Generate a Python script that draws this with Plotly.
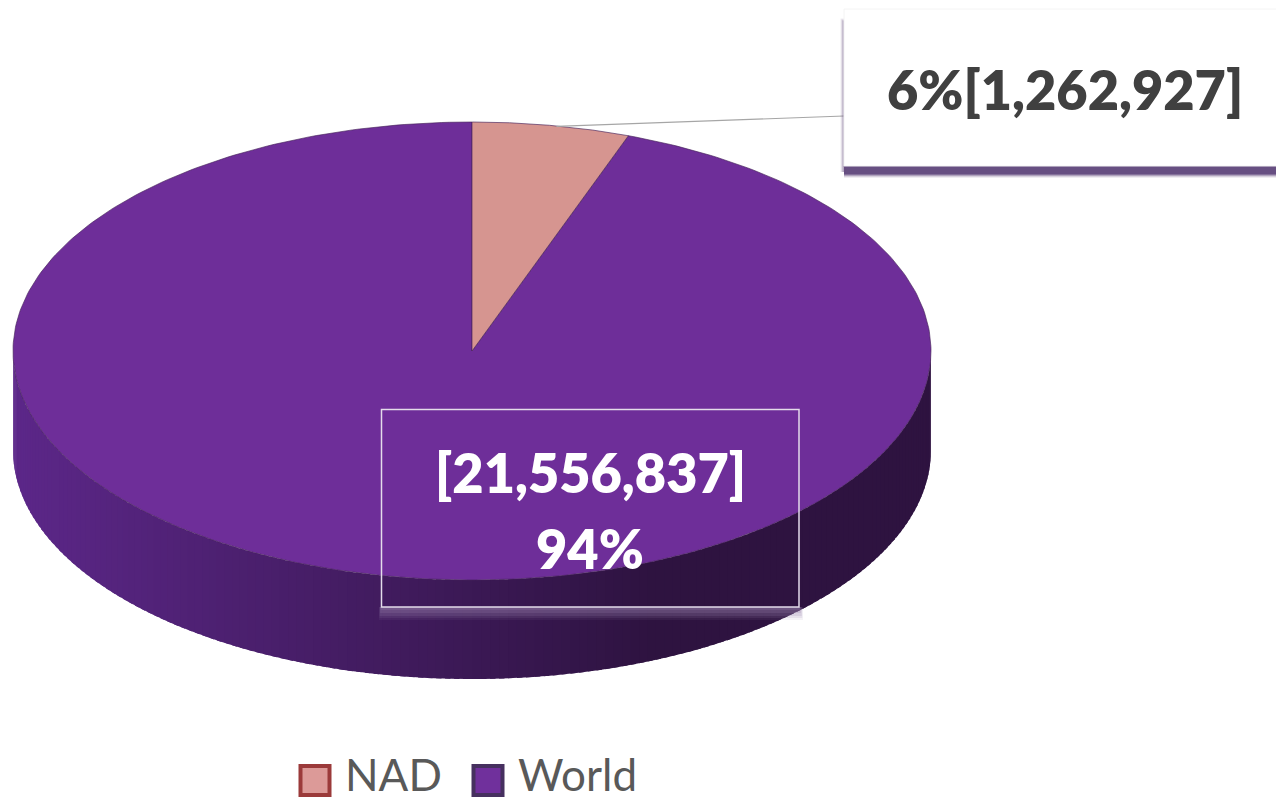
import numpy as np
import plotly.graph_objects as go

categories = ["NAD", "World"]
values = [1262927, 21556837]
percent_labels = ["6%", "94%"]
value_labels = ["[1,262,927]", "[21,556,837]"]
top_colors = ["#d69590", "#6e2e99"]
swatch_fill = ["#dc9a98", "#70309c"]
swatch_line = ["#9b3a3a", "#46305f"]

W, H = 1276, 799
CX, CY, RX, RY, DEPTH = 472, 351, 459, 229, 99

def pt(t):
    return CX + RX * np.sin(t), CY - RY * np.cos(t)

total = sum(values)
fracs = [v / total for v in values]
edges = np.cumsum([0] + fracs) * 2 * np.pi

fig = go.Figure()

# side wall, drawn as gradient strips along the front half of the ellipse
LEFT, RIGHT = np.array([0x5c, 0x27, 0x89]), np.array([0x2e, 0x13, 0x40])
steps = np.linspace(3 * np.pi / 2, np.pi / 2, 161)
for a, b in zip(steps[:-1], steps[1:]):
    arc = np.linspace(a, max(b - 0.012, np.pi / 2), 5)
    x, y = pt(arc)
    px = np.concatenate([x, x[::-1]])
    py = np.concatenate([y, y[::-1] + DEPTH])
    f = np.clip((np.mean(x) - CX + RX) / 640, 0, 1)
    c = LEFT + (RIGHT - LEFT) * f
    fig.add_trace(go.Scatter(x=px, y=py, mode="lines", fill="toself",
                             fillcolor=f"rgb({c[0]:.0f},{c[1]:.0f},{c[2]:.0f})",
                             line=dict(width=0), showlegend=False, hoverinfo="skip"))

# top face slices
for i, name in reversed(list(enumerate(categories))):
    t = np.linspace(edges[i], edges[i + 1], 361)
    x, y = pt(t)
    fig.add_trace(go.Scatter(x=np.r_[CX, x, CX], y=np.r_[CY, y, CY], mode="lines", fill="toself",
                             fillcolor=top_colors[i], name=name,
                             line=dict(color="rgba(70,35,90,0.65)", width=1),
                             showlegend=False, hoverinfo="name"))

# leader line from the middle of the small slice to its label box
lx, ly = pt((edges[0] + edges[1]) / 2)
fig.add_trace(go.Scatter(x=[lx + 5, 844], y=[ly + 1, 116], mode="lines",
                         line=dict(color="#a6a6a6", width=1.2),
                         showlegend=False, hoverinfo="skip"))

def rect(x0, x1, y0, y1, col, line=None):
    return dict(type="rect", x0=x0, x1=x1, y0=y0, y1=y1, fillcolor=col,
                line=line or dict(width=0), layer="above")

shapes = []
# soft shadow and box of the NAD label
for off, alpha in [(12, 0.10), (11, 0.18), (10, 0.35), (9, 0.6), (8, 1.0)]:
    shapes.append(rect(844, W + 5, 160, 166 + off, f"rgba(103,79,130,{alpha})"))
for off, alpha in [(3.5, 0.10), (2.5, 0.18), (1.5, 0.30)]:
    shapes.append(rect(844 - off, 846, 22 - off, 172, f"rgba(103,79,130,{alpha})"))
shapes.append(rect(844, W + 5, 9, 166, "#ffffff", dict(color="#f4f4f4", width=1)))
# soft shadow and box of the World label
for off, alpha in [(13, 0.10), (11, 0.14), (9, 0.18), (6, 0.22), (3, 0.25)]:
    shapes.append(rect(381 - off * 0.15, 799 + off * 0.3, 607, 607 + off, f"rgba(150,125,170,{alpha})"))
shapes.append(rect(381.5, 799, 409.5, 607, "rgba(0,0,0,0)", dict(color="#e4dcea", width=1.5)))

# legend
sw_x = [299, 472]
tx_x = [343, 516]
for i, name in enumerate(categories):
    shapes.append(rect(sw_x[i] + 1.5, sw_x[i] + 30.5, 766, 795, swatch_fill[i],
                       dict(color=swatch_line[i], width=4)))

label_font = dict(family="Lato", size=54, weight=800)
ann = [
    dict(x=1065, y=89, text=f"{percent_labels[0]}{value_labels[0]}", showarrow=False,
         font=dict(label_font, color="#404040")),
    dict(x=590, y=472, text=value_labels[1], showarrow=False,
         font=dict(label_font, color="#ffffff")),
    dict(x=590, y=548, text=percent_labels[1], showarrow=False,
         font=dict(label_font, color="#ffffff")),
]
for i, name in enumerate(categories):
    ann.append(dict(x=tx_x[i], y=774, text=name, showarrow=False, xanchor="left",
                    font=dict(family="Lato", size=44, color="#595959")))

fig.update_layout(
    width=W, height=H, margin=dict(l=0, r=0, t=0, b=0),
    paper_bgcolor="#ffffff", plot_bgcolor="#ffffff", showlegend=False,
    xaxis=dict(range=[0, W], visible=False, fixedrange=True),
    yaxis=dict(range=[H, 0], visible=False, fixedrange=True),
    shapes=shapes, annotations=ann,
)
fig.write_html("out.html", post_script="document.body.style.margin='0';document.body.style.overflow='hidden';",
               config={"displayModeBar": False})
